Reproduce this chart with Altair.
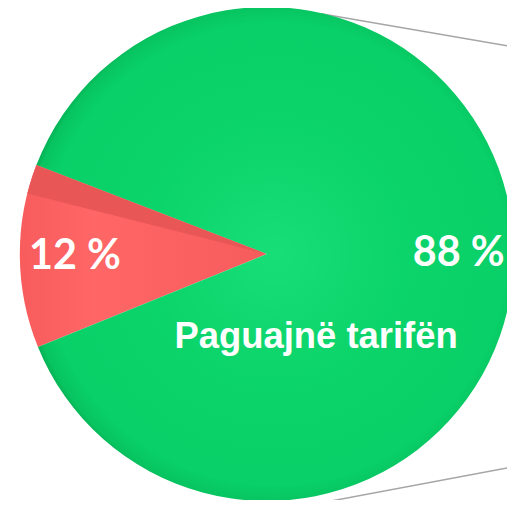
import math
import altair as alt
import pandas as pd

# ---- data ----
categories = ["Nuk paguajnë", "Paguajnë tarifën"]
values = [12, 88]
pct_labels = ["12 %", "88 %"]
cat_labels = ["", "Paguajnë tarifën"]
slice_order = [0, 1]

# connector lines (bar-of-pie leader lines), pixel endpoints
conn_x = [318, 312]
conn_y = [2, 500]
conn_x2 = [507, 507]
conn_y2 = [34.5, 463.5]

# ---- layout / style ----
W, H = 507, 492
CX, CY, R = 263, 246, 251
START = math.radians(247.9)

df = pd.DataFrame({
    "cat": categories,
    "value": values,
    "pct": pct_labels,
    "name": cat_labels,
    "ord": slice_order,
})

# darker 3D side strip on the upper part of the red slice
red_span = values[0] / sum(values) * 2 * math.pi
shade = pd.DataFrame({
    "t0": [START + 0.84 * red_span],
    "t1": [START + red_span],
})

conn = pd.DataFrame({"x": conn_x, "y": conn_y, "x2": conn_x2, "y2": conn_y2})

green_grad = {
    "gradient": "radial",
    "x1": 0.5, "y1": 0.5, "r1": 0,
    "x2": 0.5, "y2": 0.5, "r2": 0.52,
    "stops": [
        {"offset": 0, "color": "#18de78"},
        {"offset": 0.5, "color": "#0bd46a"},
        {"offset": 0.9, "color": "#09d068"},
        {"offset": 0.97, "color": "#07c460"},
        {"offset": 1, "color": "#04aa50"},
    ],
}
red_grad = {
    "gradient": "linear",
    "x1": 0, "y1": 0, "x2": 1, "y2": 0,
    "stops": [
        {"offset": 0, "color": "#f85c5c"},
        {"offset": 0.3, "color": "#ff6666"},
        {"offset": 1, "color": "#f75c5c"},
    ],
}

theta = alt.Theta("value:Q", stack=True,
                  scale=alt.Scale(range=[START, START + 2 * math.pi]))

base = alt.Chart(df).encode(
    theta=theta,
    order=alt.Order("ord:Q"),
    x=alt.value(CX),
    y=alt.value(CY),
)

arcs = base.mark_arc(radius=R).encode(
    color=alt.condition(alt.datum.cat == categories[0],
                        alt.value(red_grad), alt.value(green_grad)),
)

strip = alt.Chart(shade).mark_arc(radius=R, color="#e85656").encode(
    theta=alt.Theta("t0:Q", scale=None),
    theta2="t1:Q",
    x=alt.value(CX),
    y=alt.value(CY),
)

pct_text = base.mark_text(
    radius=195, dy=1, font="Lato", fontWeight="bold", fontSize=42,
    color="white", align="center", baseline="middle",
).encode(text="pct:N")

name_text = base.mark_text(
    radius=194, dx=-144, dy=97, font="Liberation Sans", fontWeight="bold",
    fontSize=37, color="white", align="center", baseline="alphabetic",
).encode(text="name:N")

lines = alt.Chart(conn).mark_rule(color="#a6a6a6", strokeWidth=1.5).encode(
    x=alt.X("x:Q", scale=None),
    y=alt.Y("y:Q", scale=None),
    x2="x2:Q",
    y2="y2:Q",
)

chart = alt.layer(lines, arcs, strip, pct_text, name_text).resolve_scale(
    theta="independent"
).properties(
    width=W, height=H,
    autosize=alt.AutoSizeParams(type="none"),
    padding=0,
).configure_view(stroke=None)

chart.save("out.html", embed_options={"renderer": "svg", "actions": False})
